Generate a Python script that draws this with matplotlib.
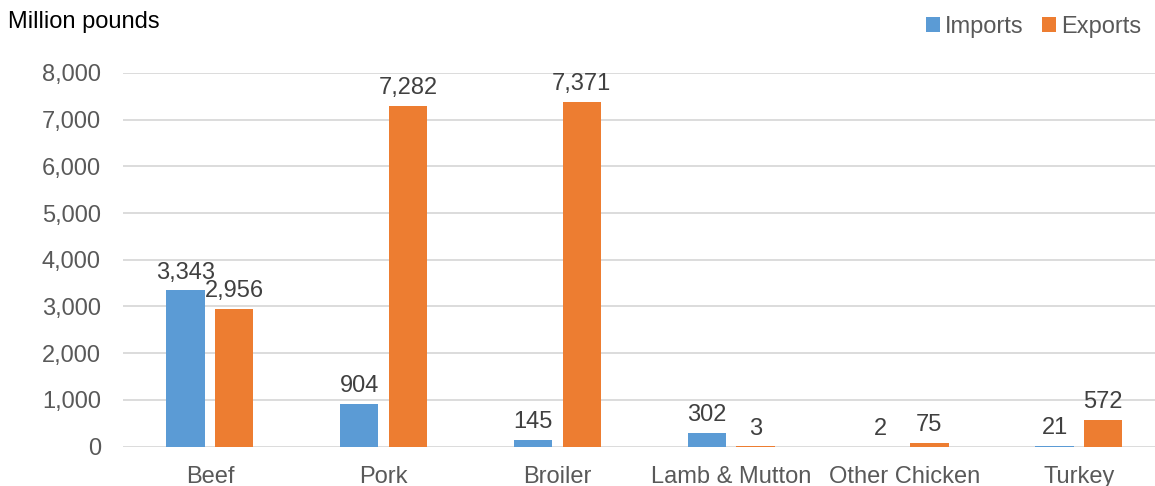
import numpy as np
import matplotlib.pyplot as plt

plt.rcParams['font.family'] = ['Liberation Sans', 'DejaVu Sans']

# --- dane (million pounds) ---
categories = ['Beef', 'Pork', 'Broiler', 'Lamb & Mutton', 'Other Chicken', 'Turkey']
imports = [3343, 904, 145, 302, 2, 21]
exports = [2956, 7282, 7371, 3, 75, 572]

c_imp = '#5B9BD5'
c_exp = '#ED7D31'

fig = plt.figure(figsize=(11.55, 4.86), dpi=100)
ax = fig.add_axes([123 / 1155, 0.081, 1 - 123 / 1155, 0.769])

x = np.arange(len(categories))
w = 0.22
off = 0.14
b1 = ax.bar(x - off, imports, w, color=c_imp, label='Imports', zorder=3)
b2 = ax.bar(x + off, exports, w, color=c_exp, label='Exports', zorder=3)

for bars, vals in ((b1, imports), (b2, exports)):
    for r, v in zip(bars, vals):
        ax.annotate(f'{v:,}', (r.get_x() + r.get_width() / 2, v),
                    xytext=(0, 5), textcoords='offset points',
                    ha='center', va='bottom', fontsize=17, color='#404040')

ax.set_ylim(0, 8000)
ax.set_yticks(np.arange(0, 8001, 1000))
ax.set_yticklabels([f'{t:,}' for t in range(0, 8001, 1000)])
ax.set_xlim(-0.5, 5.438)
ax.set_xticks(x)
ax.set_xticklabels(categories)
ax.tick_params(axis='both', length=0, labelsize=17, labelcolor='#595959')
ax.tick_params(axis='y', pad=16)
ax.tick_params(axis='x', pad=14)
ax.grid(axis='y', color='#D9D9D9', linewidth=1.3, zorder=0)
for s in ax.spines.values():
    s.set_visible(False)

fig.text(8 / 1155, 1 - 22 / 486, 'Million pounds', fontsize=17, color='black',
         ha='left', va='center')

leg = fig.legend(handles=[b1, b2], loc='center right',
                 bbox_to_anchor=(1 - 14 / 1155, 1 - 27 / 486),
                 ncol=2, frameon=False, fontsize=17, handlelength=0.6,
                 handleheight=0.6, handletextpad=0.2, columnspacing=0.8,
                 borderaxespad=0, borderpad=0)
for t in leg.get_texts():
    t.set_color('#595959')

fig.savefig('out.png', dpi=100)
